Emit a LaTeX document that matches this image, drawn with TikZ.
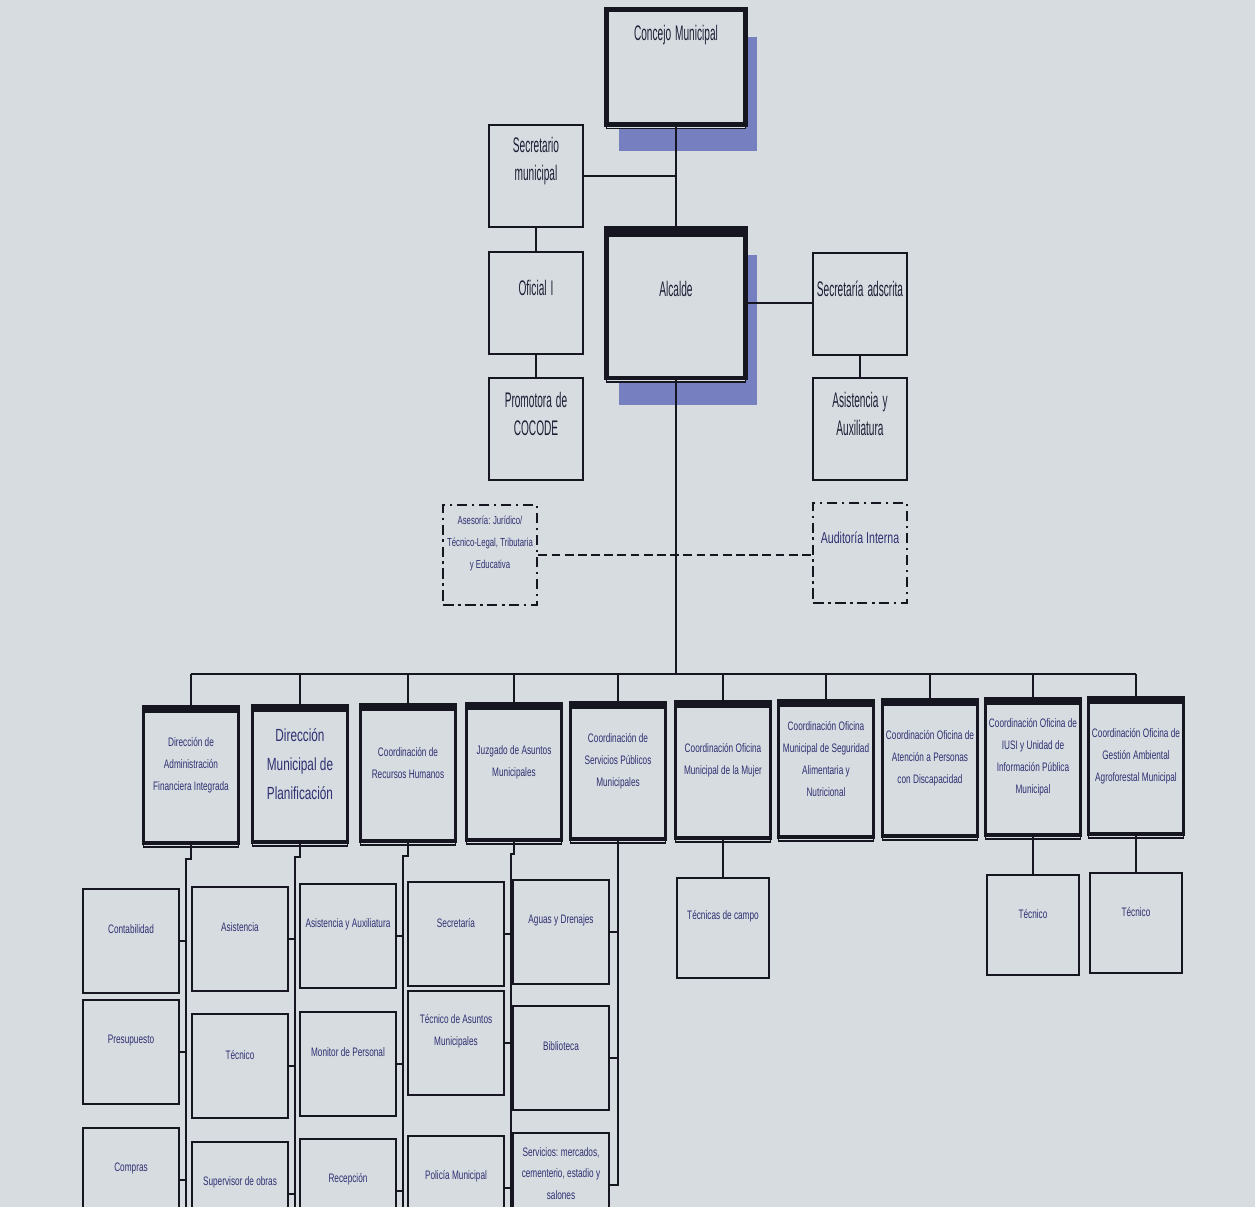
\documentclass[tikz,border=0pt]{standalone}
\usepackage{fontspec}
\usepackage{xcolor}
\usepackage{tikz}
\usetikzlibrary{shadows,calc}

\newfontfamily\slimfont[FakeStretch=0.48]{Liberation Sans}
\newfontfamily\narrowfont[FakeStretch=0.67]{Liberation Sans}
\newcommand\headtext{\slimfont\fontsize{12pt}{16pt}\selectfont}
\newcommand\smalltext{\narrowfont\fontsize{7pt}{12.5pt}\selectfont}
\newcommand\tinytext{\narrowfont\fontsize{6.6pt}{12.5pt}\selectfont}
\newcommand\bigtext{\narrowfont\fontsize{10pt}{16.5pt}\selectfont}
\newcommand\midtext{\narrowfont\fontsize{9pt}{12pt}\selectfont}

\definecolor{screen}{RGB}{215,220,225}
\definecolor{ink}{RGB}{22,22,32}
\definecolor{navy}{RGB}{46,48,112}
\definecolor{shade}{RGB}{118,128,192}

\begin{document}
\begin{tikzpicture}[x=0.02cm, y=-0.02cm,
  box/.style={rectangle, draw=ink, line width=1.6pt, fill=screen, text=navy, align=center, inner xsep=0.03cm, inner ysep=0pt,
    execute at begin node={\spaceskip=0.19em\relax\xspaceskip=0.22em\relax}},
  lift/.style={execute at end node={\endgraf\kern#1}},
  headfont/.style={text=ink!75!navy, font=\headtext},
  head/.style={box, headfont, text width=1.82cm, minimum height=2.04cm},
  chief/.style={box, headfont, text width=2.72cm, line width=2.4pt,
    drop shadow={fill=shade, draw=none, opacity=1, shadow xshift=0.24cm, shadow yshift=-0.54cm},
    copy shadow={fill=screen, draw=ink, line width=1.1pt, shadow xshift=0pt, shadow yshift=-0.08cm}},
  topbar/.style={path picture={\draw[ink, line width=#1] (path picture bounding box.north west) -- (path picture bounding box.north east);}},
  dept/.style={box, text width=1.84cm, minimum height=2.72cm, line width=1.8pt, lift=11pt,
    font=\smalltext, topbar=7pt,
    copy shadow={fill=screen, draw=ink, line width=1.1pt, shadow xshift=0pt, shadow yshift=-0.08cm}},
  post/.style={box, text width=1.86cm, minimum height=2.08cm, font=\smalltext},
  aside/.style={box, dash pattern=on 6pt off 2.5pt on 1.5pt off 2.5pt, text width=1.82cm, minimum height=2cm,
    font=\tinytext},
  link/.style={draw=ink, line width=1.1pt}
]
  \useasboundingbox (0,0) rectangle (1255,1207);
  \fill[screen] (0,0) rectangle (1255,1207);
  \clip (0,0) rectangle (1255,1207);

  % upper part
  \node[chief, minimum height=2.3cm, lift=36pt] (concejo) at (676,67) {Concejo Municipal};
  \node[head, lift=17pt] (secmun) at (536,176) {Secretario\\municipal};
  \node[chief, topbar=10pt, minimum height=3cm, lift=16pt] (alcalde) at (676,303) {Alcalde};
  \node[head, lift=17pt] (oficial) at (536,303) {Oficial I};
  \node[head, lift=17pt] (promotora) at (536,429) {Promotora de\\COCODE};
  \node[head, lift=17pt] (adscrita) at (860,304) {Secretaría adscrita};
  \node[head, lift=17pt] (auxiliatura) at (860,429) {Asistencia y\\Auxiliatura};
  \node[aside, lift=13pt] (asesoria) at (490,555) {Asesoría: Jurídico/\\Técnico-Legal, Tributaria\\y Educativa};
  \node[aside, font=\midtext, lift=17pt] (auditoria) at (860,553) {Auditoría Interna};

  % direcciones y coordinaciones
  \node[dept] (daf) at (191,775) {Dirección de\\Administración\\Financiera Integrada};
  \node[dept, font=\bigtext] (dmp) at (300,774) {Dirección\\Municipal de\\Planificación};
  \node[dept] (rrhh) at (408,773) {Coordinación de\\Recursos Humanos};
  \node[dept] (juzgado) at (514,772) {Juzgado de Asuntos\\Municipales};
  \node[dept] (spm) at (618,771) {Coordinación de\\Servicios Públicos\\Municipales};
  \node[dept] (omm) at (723,770) {Coordinación Oficina\\Municipal de la Mujer};
  \node[dept] (san) at (826,769) {Coordinación Oficina\\Municipal de Seguridad\\Alimentaria y\\Nutricional};
  \node[dept] (discap) at (930,768) {Coordinación Oficina de\\Atención a Personas\\con Discapacidad};
  \node[dept] (iusi) at (1033,767) {Coordinación Oficina de\\IUSI y Unidad de\\Información Pública\\Municipal};
  \node[dept] (ambiente) at (1136,766) {Coordinación Oficina de\\Gestión Ambiental\\Agroforestal Municipal};

  % puestos
  \node[post, lift=13pt] (conta) at (131,941) {Contabilidad};
  \node[post, lift=13pt] (presu) at (131,1052) {Presupuesto};
  \node[post, lift=13pt] (compras) at (131,1180) {Compras};
  \node[post, lift=13pt] (asis) at (240,939) {Asistencia};
  \node[post, lift=13pt] (tecdmp) at (240,1066) {Técnico};
  \node[post, lift=13pt] (superv) at (240,1194) {Supervisor de obras};
  \node[post, lift=13pt] (asisaux) at (348,936) {Asistencia y Auxiliatura};
  \node[post, lift=13pt] (monitor) at (348,1064) {Monitor de Personal};
  \node[post, lift=13pt] (recep) at (348,1191) {Recepción};
  \node[post, lift=13pt] (secre) at (456,934) {Secretaría};
  \node[post, lift=13pt] (tecjuz) at (456,1043) {Técnico de Asuntos\\Municipales};
  \node[post, lift=13pt] (policia) at (456,1188) {Policía Municipal};
  \node[post, lift=13pt] (aguas) at (561,932) {Aguas y Drenajes};
  \node[post, lift=13pt] (biblio) at (561,1058) {Biblioteca};
  \node[post, lift=13pt] (servicios) at (561,1185) {Servicios: mercados,\\cementerio, estadio y\\salones};
  \node[post, text width=1.78cm, minimum height=2cm, lift=13pt] (campo) at (723,928) {Técnicas de campo};
  \node[post, text width=1.78cm, minimum height=2cm, lift=13pt] (teciusi) at (1033,925) {Técnico};
  \node[post, text width=1.78cm, minimum height=2cm, lift=13pt] (tecamb) at (1136,923) {Técnico};

  % lines upper part
  \draw[link] (concejo) -- (alcalde);
  \draw[link] (secmun.east) -- (secmun.east -| concejo.south);
  \draw[link] (secmun) -- (oficial);
  \draw[link] (oficial) -- (promotora);
  \draw[link] (alcalde.east) -- (alcalde.east -| adscrita.west);
  \draw[link] (adscrita) -- (auxiliatura);
  \draw[link, line width=1.4pt, dash pattern=on 5pt off 2.5pt] (asesoria.east) -- (asesoria.east -| auditoria.west);

  % bus
  \coordinate (busl) at (191,674);
  \coordinate (busr) at (1136,674);
  \draw[link] (alcalde.south) -- (alcalde.south |- busl);
  \draw[link] (busl) -- (busr);
  \draw[link] (daf.north) -- (daf.north |- busl);
  \draw[link] (dmp.north) -- (dmp.north |- busl);
  \draw[link] (rrhh.north) -- (rrhh.north |- busl);
  \draw[link] (juzgado.north) -- (juzgado.north |- busl);
  \draw[link] (spm.north) -- (spm.north |- busl);
  \draw[link] (omm.north) -- (omm.north |- busl);
  \draw[link] (san.north) -- (san.north |- busl);
  \draw[link] (discap.north) -- (discap.north |- busl);
  \draw[link] (iusi.north) -- (iusi.north |- busl);
  \draw[link] (ambiente.north) -- (ambiente.north |- busl);

  % lines lower part
  \draw[link] (daf.south) -- ++(0,14) -| ($(compras.east)+(6,40)$);
  \draw[link] (conta.east) -- ++(6,0);
  \draw[link] (presu.east) -- ++(6,0);
  \draw[link] (compras.east) -- ++(6,0);
  \draw[link] (dmp.south) -- ++(0,13) -| ($(superv.east)+(6,40)$);
  \draw[link] (asis.east) -- ++(6,0);
  \draw[link] (tecdmp.east) -- ++(6,0);
  \draw[link] (superv.east) -- ++(6,0);
  \draw[link] (rrhh.south) -- ++(0,13) -| ($(recep.east)+(6,40)$);
  \draw[link] (asisaux.east) -- ++(6,0);
  \draw[link] (monitor.east) -- ++(6,0);
  \draw[link] (recep.east) -- ++(6,0);
  \draw[link] (juzgado.south) -- ++(0,12) -| ($(policia.east)+(6,40)$);
  \draw[link] (secre.east) -- ++(6,0);
  \draw[link] (tecjuz.east) -- ++(6,0);
  \draw[link] (policia.east) -- ++(6,0);
  \draw[link] (spm.south) |- (servicios.east);
  \draw[link] (aguas.east) -- (aguas.east -| spm.south);
  \draw[link] (biblio.east) -- (biblio.east -| spm.south);
  \draw[link] (omm) -- (campo);
  \draw[link] (iusi) -- (teciusi);
  \draw[link] (ambiente) -- (tecamb);
\end{tikzpicture}
\end{document}
